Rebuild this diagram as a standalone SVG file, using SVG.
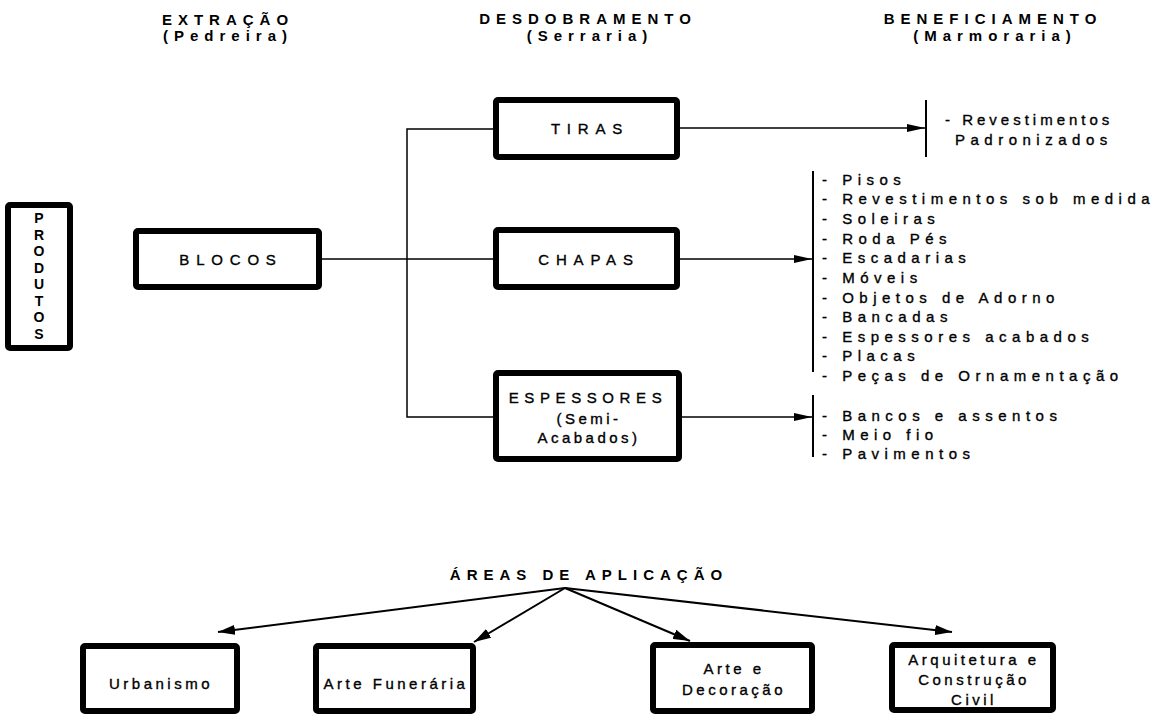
<svg xmlns="http://www.w3.org/2000/svg" width="1159" height="721" viewBox="0 0 1159 721">
  <style>
    text { font-family: "Liberation Sans", Arial, sans-serif; fill: #000; }
    .head { font-size: 15px; font-weight: bold; letter-spacing: 6px; text-anchor: middle; }
    .lbl { font-size: 15px; letter-spacing: 6.8px; text-anchor: middle; stroke: #000; stroke-width: 0.35px; }
    .lbl2 { font-size: 15px; letter-spacing: 3.5px; text-anchor: middle; stroke: #000; stroke-width: 0.35px; }
    .item { font-size: 15px; letter-spacing: 5.5px; stroke: #000; stroke-width: 0.35px; }
    .vert { font-size: 14px; font-weight: bold; text-anchor: middle; }
    .box { fill: #fff; stroke: #000; stroke-width: 6; }
    .wire { fill: none; stroke: #000; stroke-width: 1.5; }
    .bar { fill: none; stroke: #000; stroke-width: 2; }
    .ray { fill: none; stroke: #000; stroke-width: 2; }
  </style>
  <defs>
    <marker id="tip" markerUnits="userSpaceOnUse" markerWidth="18" markerHeight="8" refX="18" refY="4" orient="auto">
      <path d="M0,0 L18,4 L0,8 z" fill="#000"/>
    </marker>
    <marker id="tip2" markerUnits="userSpaceOnUse" markerWidth="17" markerHeight="10" refX="17" refY="5" orient="auto">
      <path d="M0,0 L17,5 L0,10 z" fill="#000"/>
    </marker>
  </defs>
  <rect width="1159" height="721" fill="#fff"/>

  <!-- stage headings -->
  <g id="headings">
    <text class="head" x="228" y="25">EXTRAÇÃO</text>
    <text class="head" x="228" y="41">(Pedreira)</text>
    <text class="head" x="588" y="24">DESDOBRAMENTO</text>
    <text class="head" x="590" y="41">(Serraria)</text>
    <text class="head" x="993" y="24">BENEFICIAMENTO</text>
    <text class="head" x="995" y="41">(Marmoraria)</text>
  </g>

  <!-- connectors -->
  <g id="connectors">
    <line class="wire" x1="322" y1="259" x2="493" y2="259"/>
    <polyline class="wire" points="493,129 407,129 407,417 493,417"/>
    <line class="wire" x1="680" y1="128" x2="925" y2="128" marker-end="url(#tip)"/>
    <line class="wire" x1="680" y1="259" x2="812" y2="259" marker-end="url(#tip)"/>
    <line class="wire" x1="682" y1="417" x2="812" y2="417" marker-end="url(#tip)"/>
    <line class="bar" x1="926" y1="100" x2="926" y2="157"/>
    <line class="bar" x1="813" y1="171" x2="813" y2="372"/>
    <line class="bar" x1="813" y1="395" x2="813" y2="457"/>
    <line class="ray" x1="565" y1="588" x2="218" y2="632" marker-end="url(#tip2)"/>
    <line class="ray" x1="565" y1="588" x2="474" y2="642" marker-end="url(#tip2)"/>
    <line class="ray" x1="565" y1="588" x2="690" y2="641" marker-end="url(#tip2)"/>
    <line class="ray" x1="565" y1="588" x2="952" y2="632" marker-end="url(#tip2)"/>
  </g>

  <g id="produtos">
    <rect class="box" x="8" y="205" width="62" height="143" rx="2" stroke-width="5"/>
    <text class="vert" x="39" y="223">P</text>
    <text class="vert" x="39" y="239.5">R</text>
    <text class="vert" x="39" y="256">O</text>
    <text class="vert" x="39" y="272.5">D</text>
    <text class="vert" x="39" y="289">U</text>
    <text class="vert" x="39" y="305.5">T</text>
    <text class="vert" x="39" y="322">O</text>
    <text class="vert" x="39" y="338.5">S</text>
  </g>

  <g id="blocos">
    <rect class="box" x="136" y="231" width="183" height="56" rx="2"/>
    <text class="lbl" x="231" y="265">BLOCOS</text>
  </g>

  <g id="tiras">
    <rect class="box" x="496" y="100" width="181" height="57" rx="2"/>
    <text class="lbl" x="590" y="134">TIRAS</text>
  </g>

  <g id="chapas">
    <rect class="box" x="496" y="230" width="181" height="57" rx="2"/>
    <text class="lbl" x="589" y="265">CHAPAS</text>
  </g>

  <g id="espessores">
    <rect class="box" x="496" y="373" width="183" height="86" rx="2"/>
    <text class="lbl" x="588" y="403" style="letter-spacing:5.6px">ESPESSORES</text>
    <text class="lbl2" x="589" y="424">(Semi-</text>
    <text class="lbl2" x="589" y="443">Acabados)</text>
  </g>

  <g id="padronizados">
    <text class="item" x="945" y="125" style="letter-spacing:4px">- Revestimentos</text>
    <text class="item" x="955" y="145">Padronizados</text>
  </g>

  <g id="produtos-chapas">
    <text class="item" x="822" y="185">- Pisos</text>
    <text class="item" x="822" y="204">- Revestimentos sob medida</text>
    <text class="item" x="822" y="224">- Soleiras</text>
    <text class="item" x="822" y="244">- Roda Pés</text>
    <text class="item" x="822" y="263">- Escadarias</text>
    <text class="item" x="822" y="283">- Móveis</text>
    <text class="item" x="822" y="303">- Objetos de Adorno</text>
    <text class="item" x="822" y="322">- Bancadas</text>
    <text class="item" x="822" y="342">- Espessores acabados</text>
    <text class="item" x="822" y="361">- Placas</text>
    <text class="item" x="822" y="381">- Peças de Ornamentação</text>
  </g>

  <g id="produtos-espessores">
    <text class="item" x="822" y="421">- Bancos e assentos</text>
    <text class="item" x="822" y="440">- Meio fio</text>
    <text class="item" x="822" y="459">- Pavimentos</text>
  </g>

  <g id="areas">
    <text class="head" x="589" y="580">ÁREAS DE APLICAÇÃO</text>
  </g>

  <g id="urbanismo">
    <rect class="box" x="83" y="646" width="154" height="65" rx="2"/>
    <text class="lbl2" x="161" y="689">Urbanismo</text>
  </g>

  <g id="arte-funeraria">
    <rect class="box" x="316" y="646" width="157" height="65" rx="2"/>
    <text class="lbl2" x="396" y="689">Arte Funerária</text>
  </g>

  <g id="arte-decoracao">
    <rect class="box" x="653" y="645" width="159" height="66" rx="2"/>
    <text class="lbl2" x="734" y="674">Arte e</text>
    <text class="lbl2" x="734" y="695">Decoração</text>
  </g>

  <g id="arquitetura">
    <rect class="box" x="892" y="645" width="161" height="65" rx="2"/>
    <text class="lbl2" x="974" y="665">Arquitetura e</text>
    <text class="lbl2" x="974" y="685">Construção</text>
    <text class="lbl2" x="974" y="705">Civil</text>
  </g>
</svg>
